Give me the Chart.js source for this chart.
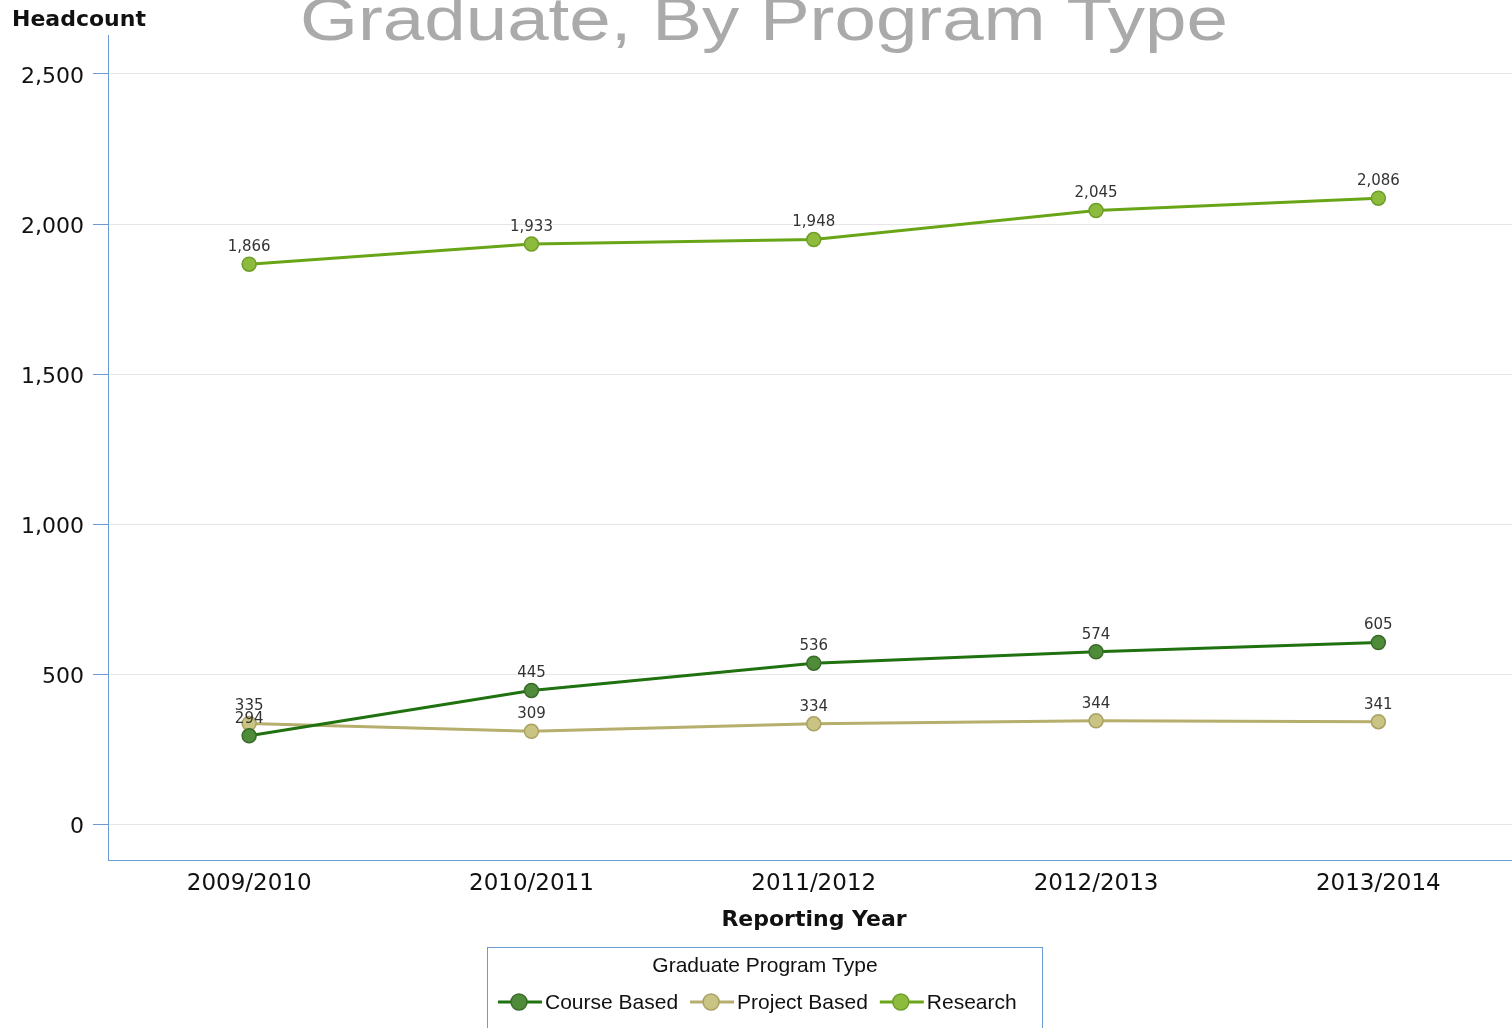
<!DOCTYPE html>
<html>
<head>
<meta charset="utf-8">
<script src="https://cdn.jsdelivr.net/npm/chart.js@4/dist/chart.umd.min.js"></script>
<style>
  body { margin: 0; overflow: hidden; background: #fff; }
  #myChart { display: block; }
</style>
</head>
<body>
<canvas id="myChart" width="1528" height="1028"></canvas>
<script>
var years = ["2009/2010", "2010/2011", "2011/2012", "2012/2013", "2013/2014"];
var courseBased = [294, 445, 536, 574, 605];
var projectBased = [335, 309, 334, 344, 341];
var research = [1866, 1933, 1948, 2045, 2086];
var yTicks = [0, 500, 1000, 1500, 2000, 2500];

var axisBlue = "#6b9bd1";

// labels, titles and the boxed legend
var extras = {
    id: "extras",
    afterDatasetsDraw: function (chart) {
        var ctx = chart.ctx;
        ctx.save();
        ctx.font = "15px 'DejaVu Sans'";
        ctx.fillStyle = "#333";
        ctx.textAlign = "center";
        ctx.textBaseline = "middle";
        chart.data.datasets.forEach(function (ds, i) {
            chart.getDatasetMeta(i).data.forEach(function (pt, j) {
                ctx.fillText(ds.data[j].toLocaleString("en-US"), pt.x, pt.y - 17);
            });
        });
        ctx.restore();
    },
    afterDraw: function (chart) {
        var ctx = chart.ctx;
        ctx.save();

        // big clipped title
        ctx.font = "62px 'Liberation Sans'";
        ctx.fillStyle = "#aaaaaa";
        ctx.textBaseline = "alphabetic";
        var txt = "Graduate, By Program Type";
        var w = ctx.measureText(txt).width;
        ctx.translate(300, 40);
        ctx.scale(928 / w, 1);
        ctx.textAlign = "left";
        ctx.fillText(txt, 0, 0);
        ctx.setTransform(1, 0, 0, 1, 0, 0);

        // axis titles
        ctx.font = "bold 22px 'DejaVu Sans'";
        ctx.fillStyle = "#111";
        ctx.textAlign = "left";
        ctx.textBaseline = "middle";
        ctx.fillText("Headcount", 12, 20);
        ctx.textAlign = "center";
        ctx.fillText("Reporting Year", 814, 920);

        // legend box
        ctx.strokeStyle = axisBlue;
        ctx.lineWidth = 1;
        ctx.strokeRect(487.5, 947.5, 555, 100);
        ctx.font = "21px 'Liberation Sans'";
        ctx.fillStyle = "#111";
        ctx.fillText("Graduate Program Type", 765, 966);

        var x = 498;
        ctx.textAlign = "left";
        chart.data.datasets.forEach(function (ds) {
            ctx.strokeStyle = ds.borderColor;
            ctx.lineWidth = 3;
            ctx.beginPath();
            ctx.moveTo(x, 1002);
            ctx.lineTo(x + 44, 1002);
            ctx.stroke();
            ctx.beginPath();
            ctx.arc(x + 21, 1002, 8, 0, 2 * Math.PI);
            ctx.fillStyle = ds.pointBackgroundColor;
            ctx.fill();
            ctx.lineWidth = 1.5;
            ctx.strokeStyle = ds.pointBorderColor;
            ctx.stroke();
            ctx.fillStyle = "#111";
            ctx.fillText(ds.label, x + 47, 1003);
            x += 47 + ctx.measureText(ds.label).width + 12;
        });
        ctx.restore();
    }
};

var chartCtx = document.getElementById("myChart").getContext("2d");
var myChart = new Chart(chartCtx, {
    type: "line",
    data: {
        labels: years,
        datasets: [{
            label: "Course Based",
            data: courseBased,
            borderColor: "#1f720f",
            pointBackgroundColor: "#4f8c3a",
            pointBorderColor: "#3a6b2a"
        }, {
            label: "Project Based",
            data: projectBased,
            borderColor: "#b6ae6c",
            pointBackgroundColor: "#c9c384",
            pointBorderColor: "#a9a262"
        }, {
            label: "Research",
            data: research,
            borderColor: "#68a618",
            pointBackgroundColor: "#8cbb3d",
            pointBorderColor: "#6f9e28"
        }]
    },
    options: {
        responsive: false,
        animation: false,
        layout: { padding: { top: 35, left: 0, right: 0, bottom: 0 } },
        elements: {
            line: { borderWidth: 3, tension: 0 },
            point: { radius: 7, borderWidth: 1.5, hoverRadius: 7 }
        },
        plugins: {
            legend: { display: false },
            title: { display: false },
            tooltip: { enabled: false }
        },
        scales: {
            x: {
                offset: true,
                grid: { display: false },
                border: { display: true, color: axisBlue, width: 1 },
                ticks: {
                    color: "#111",
                    font: { family: "'DejaVu Sans'", size: 23 },
                    padding: 2,
                    maxRotation: 0
                },
                afterFit: function (scale) { scale.height = 168; }
            },
            y: {
                min: -120,
                max: 2630,
                afterBuildTicks: function (scale) {
                    scale.ticks = yTicks.map(function (v) { return { value: v }; });
                },
                grid: {
                    color: "#e6e6e6",
                    tickColor: axisBlue,
                    tickLength: 15,
                    drawTicks: true
                },
                border: { display: true, color: axisBlue, width: 1 },
                ticks: {
                    color: "#111",
                    font: { family: "'DejaVu Sans'", size: 22 },
                    padding: 9,
                    labelOffset: 3,
                    callback: function (v) { return Number(v).toLocaleString("en-US"); }
                },
                afterFit: function (scale) { scale.width = 108; }
            }
        }
    },
    plugins: [extras]
});
</script>
</body>
</html>
